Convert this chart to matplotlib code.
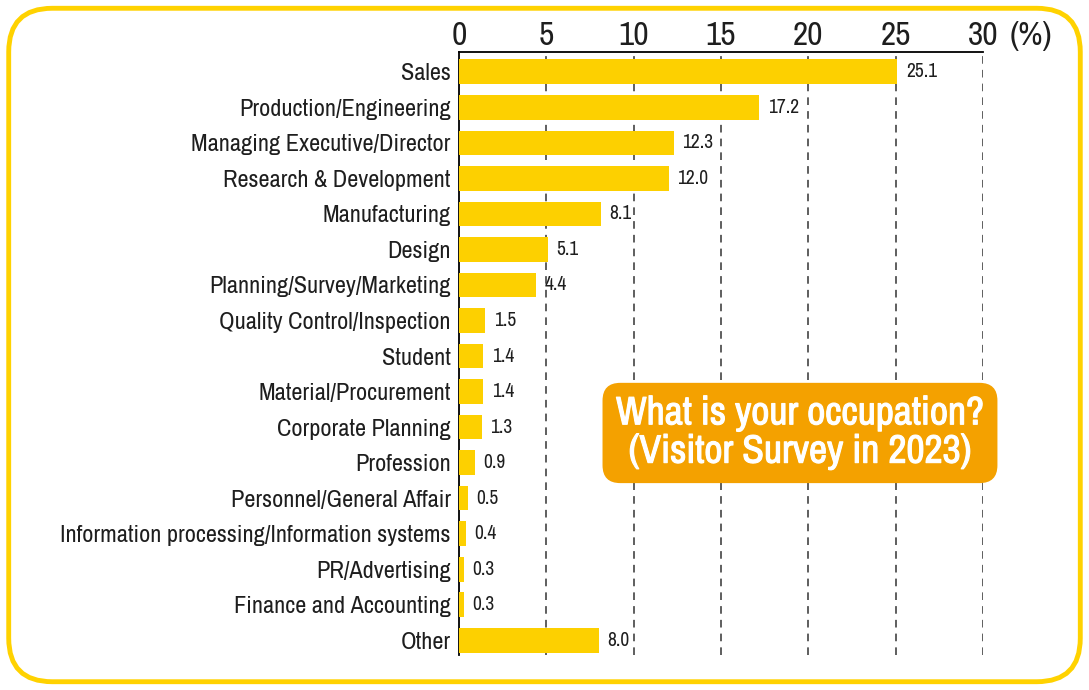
import matplotlib
matplotlib.use("Agg")
import matplotlib.pyplot as plt
import matplotlib.patheffects as pe
from matplotlib import font_manager
from matplotlib.patches import FancyBboxPatch

# pick a narrow face if one is installed, the reference uses a condensed font
names = sorted({f.name for f in font_manager.fontManager.ttflist})
narrow = [n for n in names if "Condensed" in n or "Narrow" in n]
plt.rcParams["font.family"] = narrow[:1] + ["DejaVu Sans"]

categories = [
    "Sales", "Production/Engineering", "Managing Executive/Director",
    "Research & Development", "Manufacturing", "Design",
    "Planning/Survey/Marketing", "Quality Control/Inspection", "Student",
    "Material/Procurement", "Corporate Planning", "Profession",
    "Personnel/General Affair", "Information processing/Information systems",
    "PR/Advertising", "Finance and Accounting", "Other",
]
values = [25.1, 17.2, 12.3, 12.0, 8.1, 5.1, 4.4, 1.5, 1.4, 1.4, 1.3, 0.9, 0.5, 0.4, 0.3, 0.3, 8.0]
ticks = [0, 5, 10, 15, 20, 25, 30]

BAR = "#FDD000"
FRAME = "#FFD200"
BOX = "#F4A100"
INK = "#1e1e1e"

fig = plt.figure(figsize=(10.89, 6.90), dpi=100)

# rounded yellow frame round the whole figure
frame = FancyBboxPatch((0.008, 0.012), 0.984, 0.976,
                       boxstyle="round,pad=0,rounding_size=0.04",
                       transform=fig.transFigure, facecolor="white",
                       edgecolor=FRAME, linewidth=3.5, mutation_aspect=1089 / 690,
                       zorder=-5)
fig.patches.append(frame)

ax = fig.add_axes([0.4215, 0.0507, 0.4812, 0.8739])
ax.set_facecolor("none")
y = list(range(len(categories)))
ax.barh(y, values, height=0.7, color=BAR, zorder=3)
ax.set_xlim(0, 30)
ax.set_ylim(16.42, -0.56)

for t in ticks[1:]:
    ax.axvline(t, color="#333333", lw=1.1, ls=(0, (5, 4)), zorder=1)

ax.xaxis.tick_top()
ax.set_xticks(ticks)
ax.set_xticklabels([str(t) for t in ticks])
ax.tick_params(axis="x", length=0, pad=1, labelsize=24, colors=INK)
ax.set_yticks(y)
ax.set_yticklabels(categories)
ax.tick_params(axis="y", length=0, pad=6, labelsize=17.5 if narrow else 12, colors=INK)
ax.text(31.5, 1.002, "(%)", transform=ax.get_xaxis_transform(),
        ha="left", va="bottom", fontsize=24, color=INK)

for s in ["right", "bottom"]:
    ax.spines[s].set_visible(False)
ax.spines["top"].set_linewidth(1.3)
ax.spines["left"].set_linewidth(1.3)

for yi, v in zip(y, values):
    ax.annotate(f"{v:.1f}", (v, yi), xytext=(6, 0), textcoords="offset points",
                ha="left", va="center", fontsize=14, color=INK, zorder=4)

fig.text(0.7346, 0.3725, "What is your occupation?\n(Visitor Survey in 2023)",
         ha="center", va="center", fontsize=28.5 if narrow else 19, fontweight="bold",
         color="white", linespacing=1.12,
         path_effects=[pe.withStroke(linewidth=0.8, foreground="white")],
         bbox=dict(boxstyle="round,pad=0.34,rounding_size=0.45", fc=BOX, ec="none"))

fig.savefig("out.png", dpi=100)
